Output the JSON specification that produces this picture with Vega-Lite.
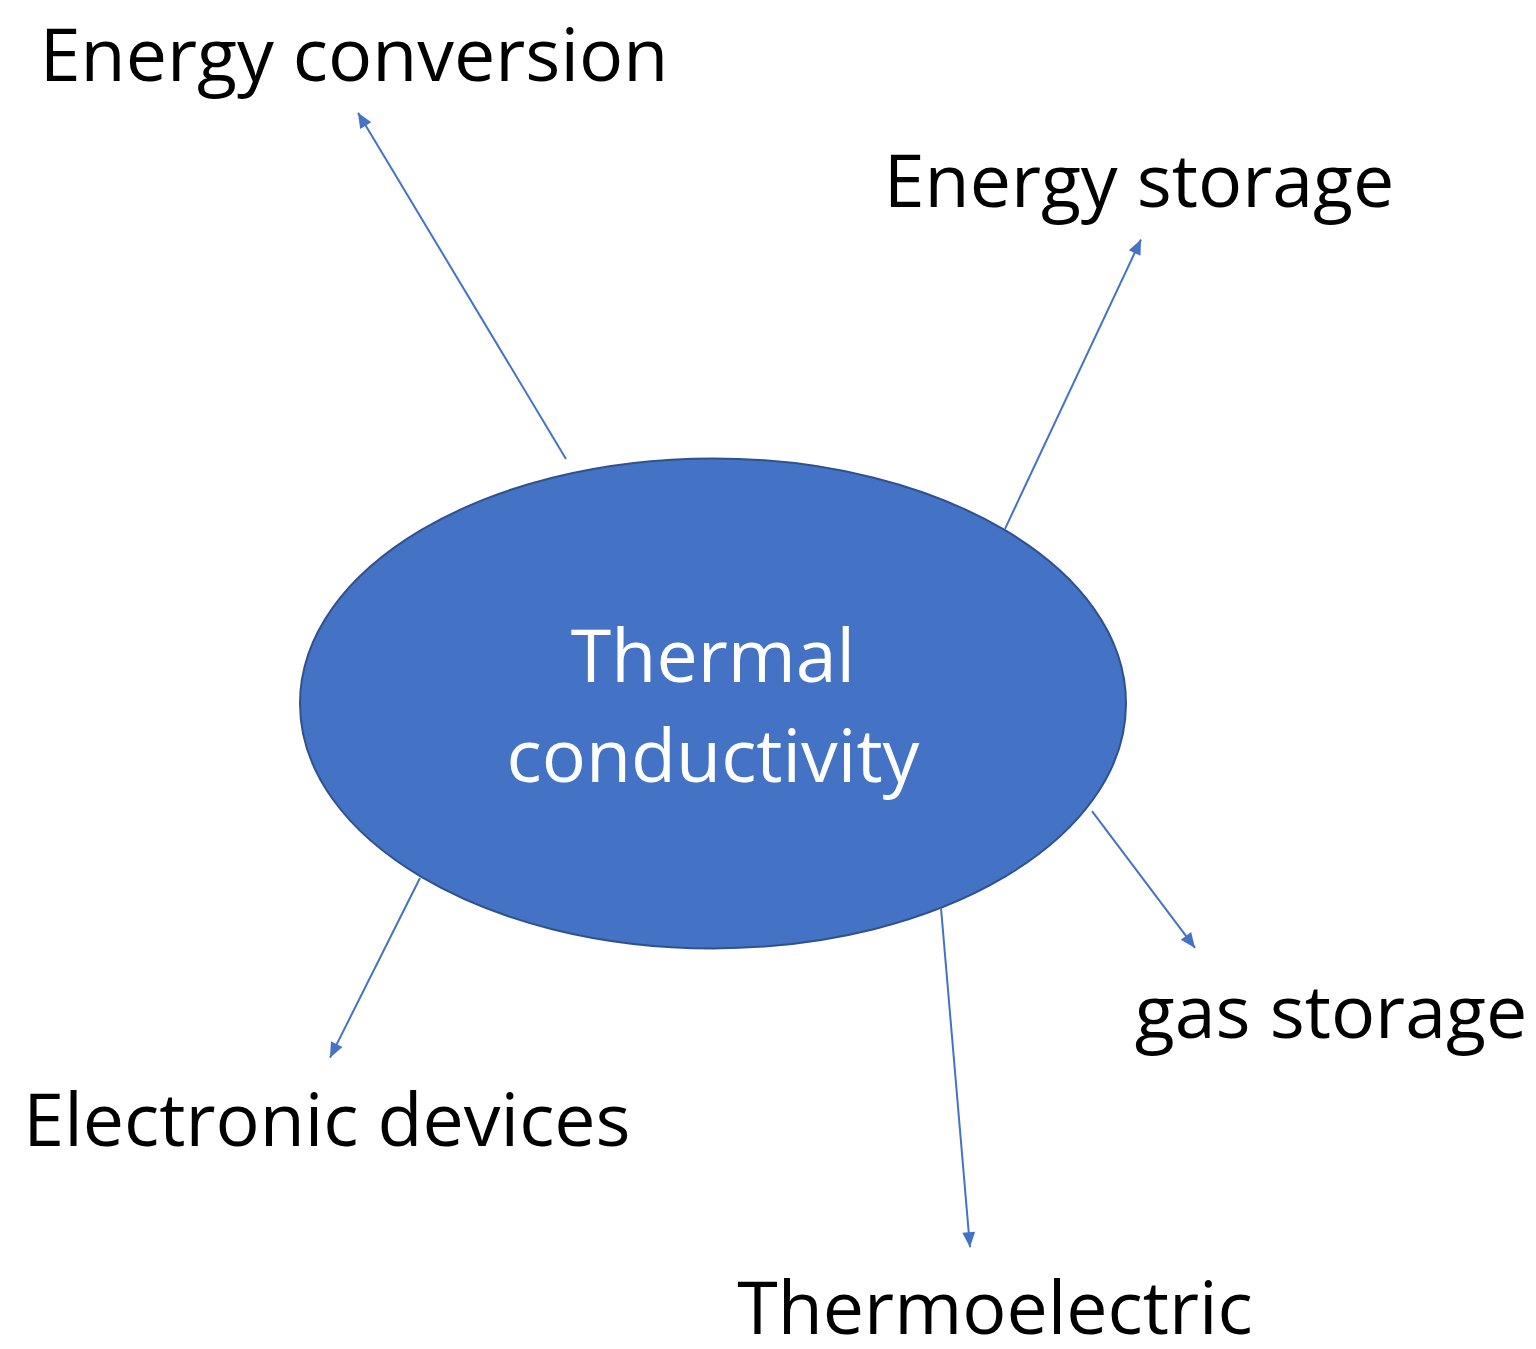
{
  "$schema": "https://vega.github.io/schema/vega-lite/v6.json",
  "width": 1536,
  "height": 1349,
  "autosize": {"type": "fit", "contains": "padding"},
  "padding": 0,
  "background": "white",
  "config": {"view": {"stroke": null}},
  "datasets": {
    "hub": [{"name": "Thermal conductivity", "cx": 713, "cy": 705}],
    "arrows": [
      {"target": "Energy conversion", "x0": 566, "y0": 460, "x1": 358, "y1": 113},
      {"target": "Energy storage", "x0": 1005, "y0": 530, "x1": 1141, "y1": 240},
      {"target": "gas storage", "x0": 1092, "y0": 813, "x1": 1195, "y1": 950},
      {"target": "Thermoelectric", "x0": 941, "y0": 910, "x1": 970, "y1": 1250},
      {"target": "Electronic devices", "x0": 420, "y0": 880, "x1": 330, "y1": 1060}
    ],
    "labels": [
      {"text": "Energy conversion", "lx": 354, "ly": 81},
      {"text": "Energy storage", "lx": 1139, "ly": 207},
      {"text": "gas storage", "lx": 1331, "ly": 1040},
      {"text": "Electronic devices", "lx": 327, "ly": 1149},
      {"text": "Thermoelectric", "lx": 995, "ly": 1337}
    ],
    "hubText": [
      {"text": "Thermal", "lx": 713, "ly": 684},
      {"text": "conductivity", "lx": 713, "ly": 784}
    ]
  },
  "layer": [
    {
      "data": {"name": "hub"},
      "mark": {
        "type": "point",
        "filled": true,
        "fill": "#4472C4",
        "stroke": "#2F528F",
        "strokeWidth": 2,
        "opacity": 1,
        "fillOpacity": 1,
        "shape": "M 1 0 C 1 0.3276 0.5523 0.5932 0 0.5932 C -0.5523 0.5932 -1 0.3276 -1 0 C -1 -0.3276 -0.5523 -0.5932 0 -0.5932 C 0.5523 -0.5932 1 -0.3276 1 0 Z",
        "size": 682276
      },
      "encoding": {
        "x": {"field": "cx", "type": "quantitative", "scale": {"domain": [0, 1536], "nice": false, "zero": false}, "axis": null},
        "y": {"field": "cy", "type": "quantitative", "scale": {"domain": [0, 1349], "nice": false, "zero": false, "reverse": true}, "axis": null}
      }
    },
    {
      "data": {"name": "arrows"},
      "mark": {"type": "rule", "color": "#4472C4", "strokeWidth": 2},
      "encoding": {
        "x": {"field": "x0", "type": "quantitative", "scale": {"domain": [0, 1536], "nice": false, "zero": false}, "axis": null},
        "y": {"field": "y0", "type": "quantitative", "scale": {"domain": [0, 1349], "nice": false, "zero": false, "reverse": true}, "axis": null},
        "x2": {"field": "x1"},
        "y2": {"field": "y1"}
      }
    },
    {
      "data": {"name": "arrows"},
      "transform": [
        {"calculate": "atan2(datum.x1 - datum.x0, datum.y0 - datum.y1) * 180 / PI", "as": "heading"}
      ],
      "mark": {
        "type": "point",
        "filled": true,
        "color": "#4472C4",
        "opacity": 1,
        "shape": "M 0 0 L -0.43 1 L 0.43 1 Z",
        "size": 900
      },
      "encoding": {
        "x": {"field": "x1", "type": "quantitative", "scale": {"domain": [0, 1536], "nice": false, "zero": false}, "axis": null},
        "y": {"field": "y1", "type": "quantitative", "scale": {"domain": [0, 1349], "nice": false, "zero": false, "reverse": true}, "axis": null},
        "angle": {"field": "heading", "type": "quantitative", "scale": null}
      }
    },
    {
      "data": {"name": "labels"},
      "mark": {"type": "text", "font": "Open Sans", "fontSize": 73.5, "align": "center", "baseline": "alphabetic", "color": "black"},
      "encoding": {
        "x": {"field": "lx", "type": "quantitative", "scale": {"domain": [0, 1536], "nice": false, "zero": false}, "axis": null},
        "y": {"field": "ly", "type": "quantitative", "scale": {"domain": [0, 1349], "nice": false, "zero": false, "reverse": true}, "axis": null},
        "text": {"field": "text", "type": "nominal"}
      }
    },
    {
      "data": {"name": "hubText"},
      "mark": {"type": "text", "font": "Open Sans", "fontSize": 73.5, "align": "center", "baseline": "alphabetic", "color": "white"},
      "encoding": {
        "x": {"field": "lx", "type": "quantitative", "scale": {"domain": [0, 1536], "nice": false, "zero": false}, "axis": null},
        "y": {"field": "ly", "type": "quantitative", "scale": {"domain": [0, 1349], "nice": false, "zero": false, "reverse": true}, "axis": null},
        "text": {"field": "text", "type": "nominal"}
      }
    }
  ]
}
